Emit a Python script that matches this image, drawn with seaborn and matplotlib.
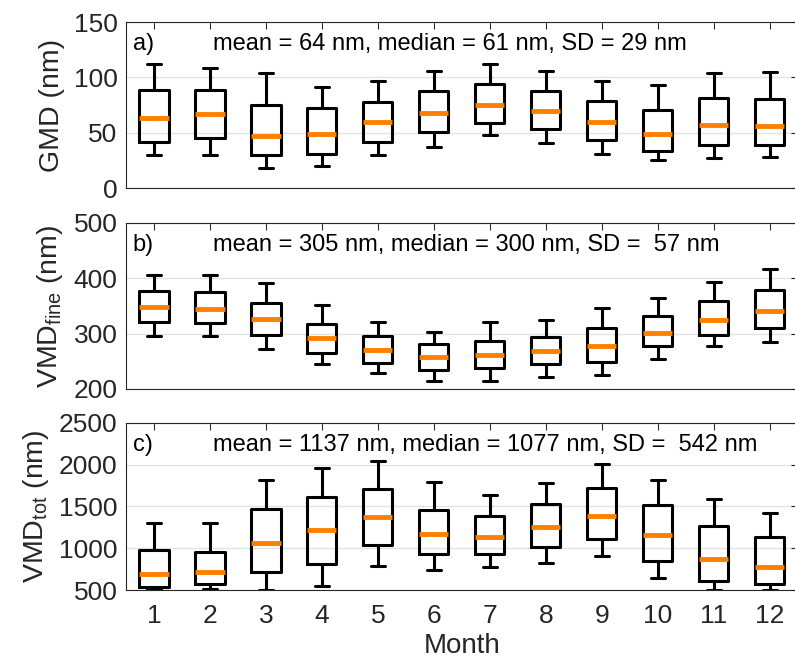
import matplotlib
matplotlib.use("Agg")
import matplotlib.pyplot as plt
import numpy as np
import pandas as pd
import seaborn as sns

months = list(range(1, 13))

# five-number summaries (whisker low, q1, median, q3, whisker high)
gmd_lo = [30, 30, 18.5, 20, 30, 37, 47.5, 41, 31, 25, 27, 28]
gmd_q1 = [42, 45, 29.5, 31, 41.5, 50.5, 59, 53.7, 43, 33.7, 38.5, 39]
gmd_med = [63, 67, 46.6, 49, 60, 68, 74.6, 70, 60, 49, 57, 56.4]
gmd_q3 = [89, 89, 75, 72, 78, 88, 94, 88, 79, 70.7, 81, 80]
gmd_hi = [112, 108, 103.6, 91, 96.7, 105.7, 112.5, 105.7, 97, 93.4, 103.6, 105]

fine_lo = [295, 295, 273, 246, 228.6, 214, 214, 221, 226, 254.8, 277.4, 285.7]
fine_q1 = [320.8, 319.6, 297, 265.5, 247, 234, 238, 245, 249.4, 277.4, 297, 311]
fine_med = [347.6, 345.2, 325.6, 291.7, 270, 257.7, 261, 268.5, 277, 300.6, 324.4, 341.7]
fine_q3 = [376.8, 374.4, 355.4, 317, 296, 281.5, 287.5, 294, 310.7, 331, 359, 378]
fine_hi = [406.5, 406.5, 392, 352, 321, 303, 321, 325, 346, 363.7, 394, 416]

tot_lo = [512, 512, 504, 552, 784, 744, 780, 828, 904, 640, 504, 504]
tot_q1 = [532, 568, 716, 812, 1040, 932, 928, 1020, 1108, 844, 604, 568]
tot_med = [688, 716, 1064, 1216, 1372, 1176, 1140, 1256, 1392, 1164, 876, 780]
tot_q3 = [984, 960, 1468, 1612, 1708, 1460, 1384, 1528, 1720, 1520, 1268, 1140]
tot_hi = [1300, 1300, 1816, 1964, 2044, 1788, 1640, 1780, 2012, 1816, 1592, 1428]

panel_tags = ["a)", "b)", "c)"]
panel_notes = [
    "mean = 64 nm, median = 61 nm, SD = 29 nm",
    "mean = 305 nm, median = 300 nm, SD =  57 nm",
    "mean = 1137 nm, median = 1077 nm, SD =  542 nm",
]
ylabels = ["GMD (nm)", r"VMD$_{\rm fine}$ (nm)", r"VMD$_{\rm tot}$ (nm)"]
yticks = [[0, 50, 100, 150], [200, 300, 400, 500], [500, 1000, 1500, 2000, 2500]]


def long_table(lo, q1, med, q3, hi):
    # with five points per month the quartiles of the sample equal q1/med/q3
    rows = []
    for m, vals in zip(months, zip(lo, q1, med, q3, hi)):
        for v in vals:
            rows.append({"month": m, "value": v})
    return pd.DataFrame(rows)


tables = [
    long_table(gmd_lo, gmd_q1, gmd_med, gmd_q3, gmd_hi),
    long_table(fine_lo, fine_q1, fine_med, fine_q3, fine_hi),
    long_table(tot_lo, tot_q1, tot_med, tot_q3, tot_hi),
]

sns.set_style("white")
plt.rcParams["font.family"] = ["Liberation Sans", "DejaVu Sans"]
plt.rcParams["mathtext.fontset"] = "custom"
plt.rcParams["mathtext.rm"] = "Liberation Sans"

fig = plt.figure(figsize=(7.95, 6.63), dpi=100)
axes_rect = [
    [0.1585, 0.7164, 0.845, 0.2504],
    [0.1585, 0.4133, 0.845, 0.2504],
    [0.1585, 0.1101, 0.845, 0.2519],
]
axis_col = "#262626"

for i, df in enumerate(tables):
    ax = fig.add_axes(axes_rect[i])
    sns.boxplot(
        data=df, x="month", y="value", ax=ax,
        whis=(0, 100), width=0.52, fill=False, color="black",
        linewidth=2.2, capwidths=0.24,
        medianprops=dict(color="#FF8000", linewidth=3.5),
    )
    ax.set_xlim(-0.5, 11.5)
    ax.set_ylim(yticks[i][0], yticks[i][-1])
    ax.set_yticks(yticks[i])
    ax.set_xticks(range(12))
    ax.yaxis.grid(True, color="#e3e3e3", lw=1)
    ax.set_axisbelow(True)
    ax.tick_params(direction="in", top=True, right=True, length=5, width=0.8,
                   color=axis_col, labelcolor=axis_col, labelsize=19)
    for s in ax.spines.values():
        s.set_color(axis_col)
        s.set_linewidth(0.8)
    ax.set_ylabel(ylabels[i], fontsize=20.5, color=axis_col, labelpad=6)
    if i < 2:
        ax.set_xticklabels([])
        ax.set_xlabel("")
    else:
        ax.set_xticklabels([str(m) for m in months])
        ax.set_xlabel("Month", fontsize=20, color=axis_col, labelpad=4)
        ax.tick_params(axis="x", pad=10)
    ax.tick_params(axis="y", pad=6)
    ax.text(0.01, 0.87, panel_tags[i], transform=ax.transAxes, fontsize=17,
            va="center", ha="left", color="black")
    ax.text(0.129, 0.87, panel_notes[i], transform=ax.transAxes, fontsize=17,
            va="center", ha="left", color="black")

fig.savefig("out.png", dpi=100)
